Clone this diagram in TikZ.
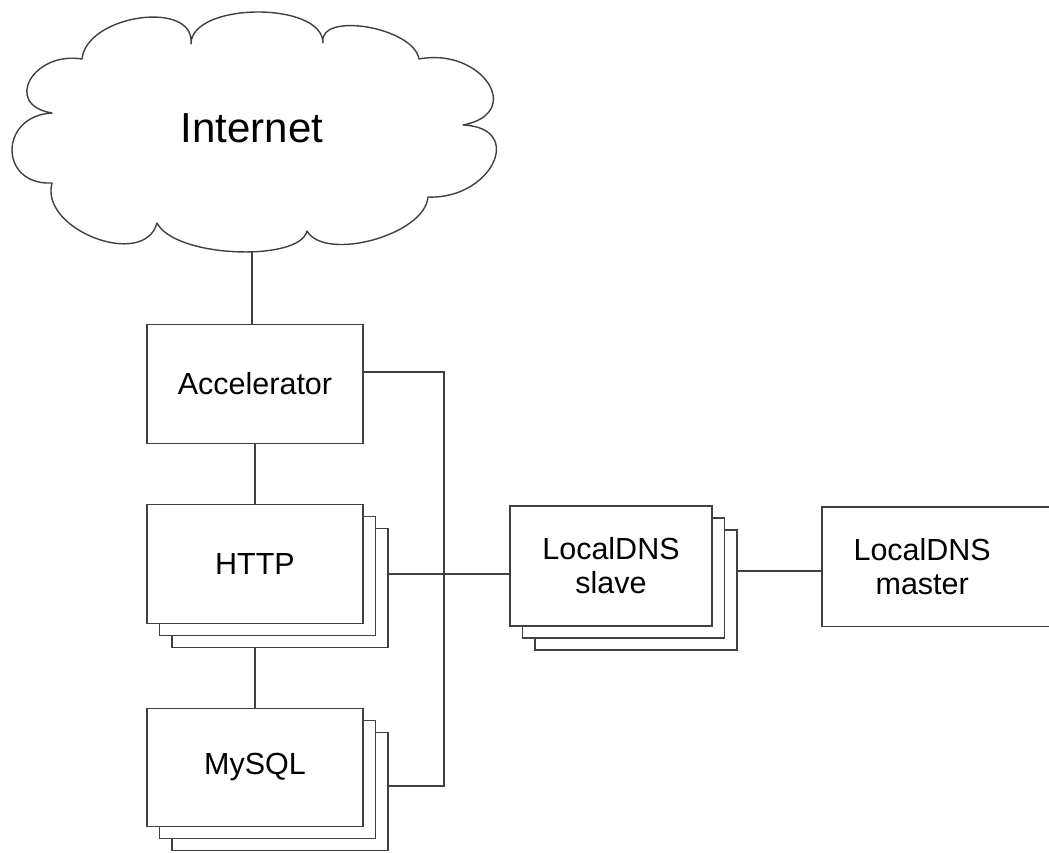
\documentclass[tikz,border=0pt]{standalone}
\usepackage{fontspec}
\setmainfont{Liberation Sans}
\begin{document}
\begin{tikzpicture}[x=1pt,y=-1pt,
  line/.style={draw=black!75, line width=1.4pt},
  boxfont/.style={font=\fontsize{30.5}{34}\selectfont},
  box/.style={line, fill=white, minimum width=216pt, minimum height=119pt, inner sep=0pt, boxfont, align=center},
  sbox/.style={box, minimum width=202pt, minimum height=120pt}
]
\useasboundingbox (0,0) rectangle (1049,852);
% cloud
\draw[line, fill=white, line join=round] (82,59)
  .. controls (86.7,14.3) and (195.7,-0.7) .. (191,44)
  .. controls (191,2) and (323,1) .. (323,43)
  .. controls (317.7,11) and (413.7,27) .. (419,59)
  .. controls (481.7,47) and (525.7,113) .. (463,125)
  .. controls (526.3,127.7) and (491.3,199.7) .. (428,197)
  .. controls (425,235) and (325,262) .. (307,231)
  .. controls (300,262) and (175,258) .. (157,223)
  .. controls (144.3,269.7) and (39.3,229.7) .. (52,183)
  .. controls (-1.3,185.7) and (-1.3,115.7) .. (52,113)
  .. controls (2.7,105) and (32.7,51) .. (82,59) -- cycle;
\node[font=\fontsize{42}{44}\selectfont] (internet) at (252,128.5) {Internet};
\coordinate (cloudb) at (252,252);

% accelerator
\node[box] (acc) at (255,384) {Accelerator};

% HTTP stack
\node[box] (http3) at (280,588) {};
\node[box] (http2) at (267.5,576) {};
\node[box] (http) at (255,564) {HTTP};

% MySQL stack
\node[box, minimum height=118pt] (mysql3) at (280,791.5) {};
\node[box, minimum height=118pt] (mysql2) at (267.5,779.5) {};
\node[box, minimum height=118pt] (mysql) at (255,767.5) {MySQL};

% LocalDNS slave stack
\node[sbox] (slave3) at (636,590) {};
\node[sbox] (slave2) at (623.5,578) {};
\node[sbox] (slave) at (611,566) {LocalDNS\\slave};

% LocalDNS master (cut by the right edge)
\node[inner sep=0pt, minimum width=200pt, minimum height=119pt, anchor=west, boxfont, align=center] (master) at (822,566.5) {LocalDNS\\master};
\draw[line] ([xshift=240pt]master.north west) -- (master.north west) -- (master.south west) -- ([xshift=240pt]master.south west);

% connectors
\draw[line] (cloudb) -- (cloudb |- acc.north);
\draw[line] (acc.south) -- (http.north);
\draw[line] (http.south |- http3.south) -- (mysql.north);
\coordinate (busx) at (444,0);
\coordinate (a1) at ([yshift=12pt]acc.east);
\coordinate (m1) at ([yshift=5.5pt]mysql3.east);
\draw[line] (a1) -- (a1 -| busx) -- (m1 -| busx) -- (m1);
\coordinate (h1) at ([yshift=14pt]http3.east);
\draw[line] (h1) -- (h1 -| slave.west);
\coordinate (s1) at ([yshift=19pt]slave3.east);
\draw[line] (s1) -- (s1 -| master.west);
\end{tikzpicture}
\end{document}
